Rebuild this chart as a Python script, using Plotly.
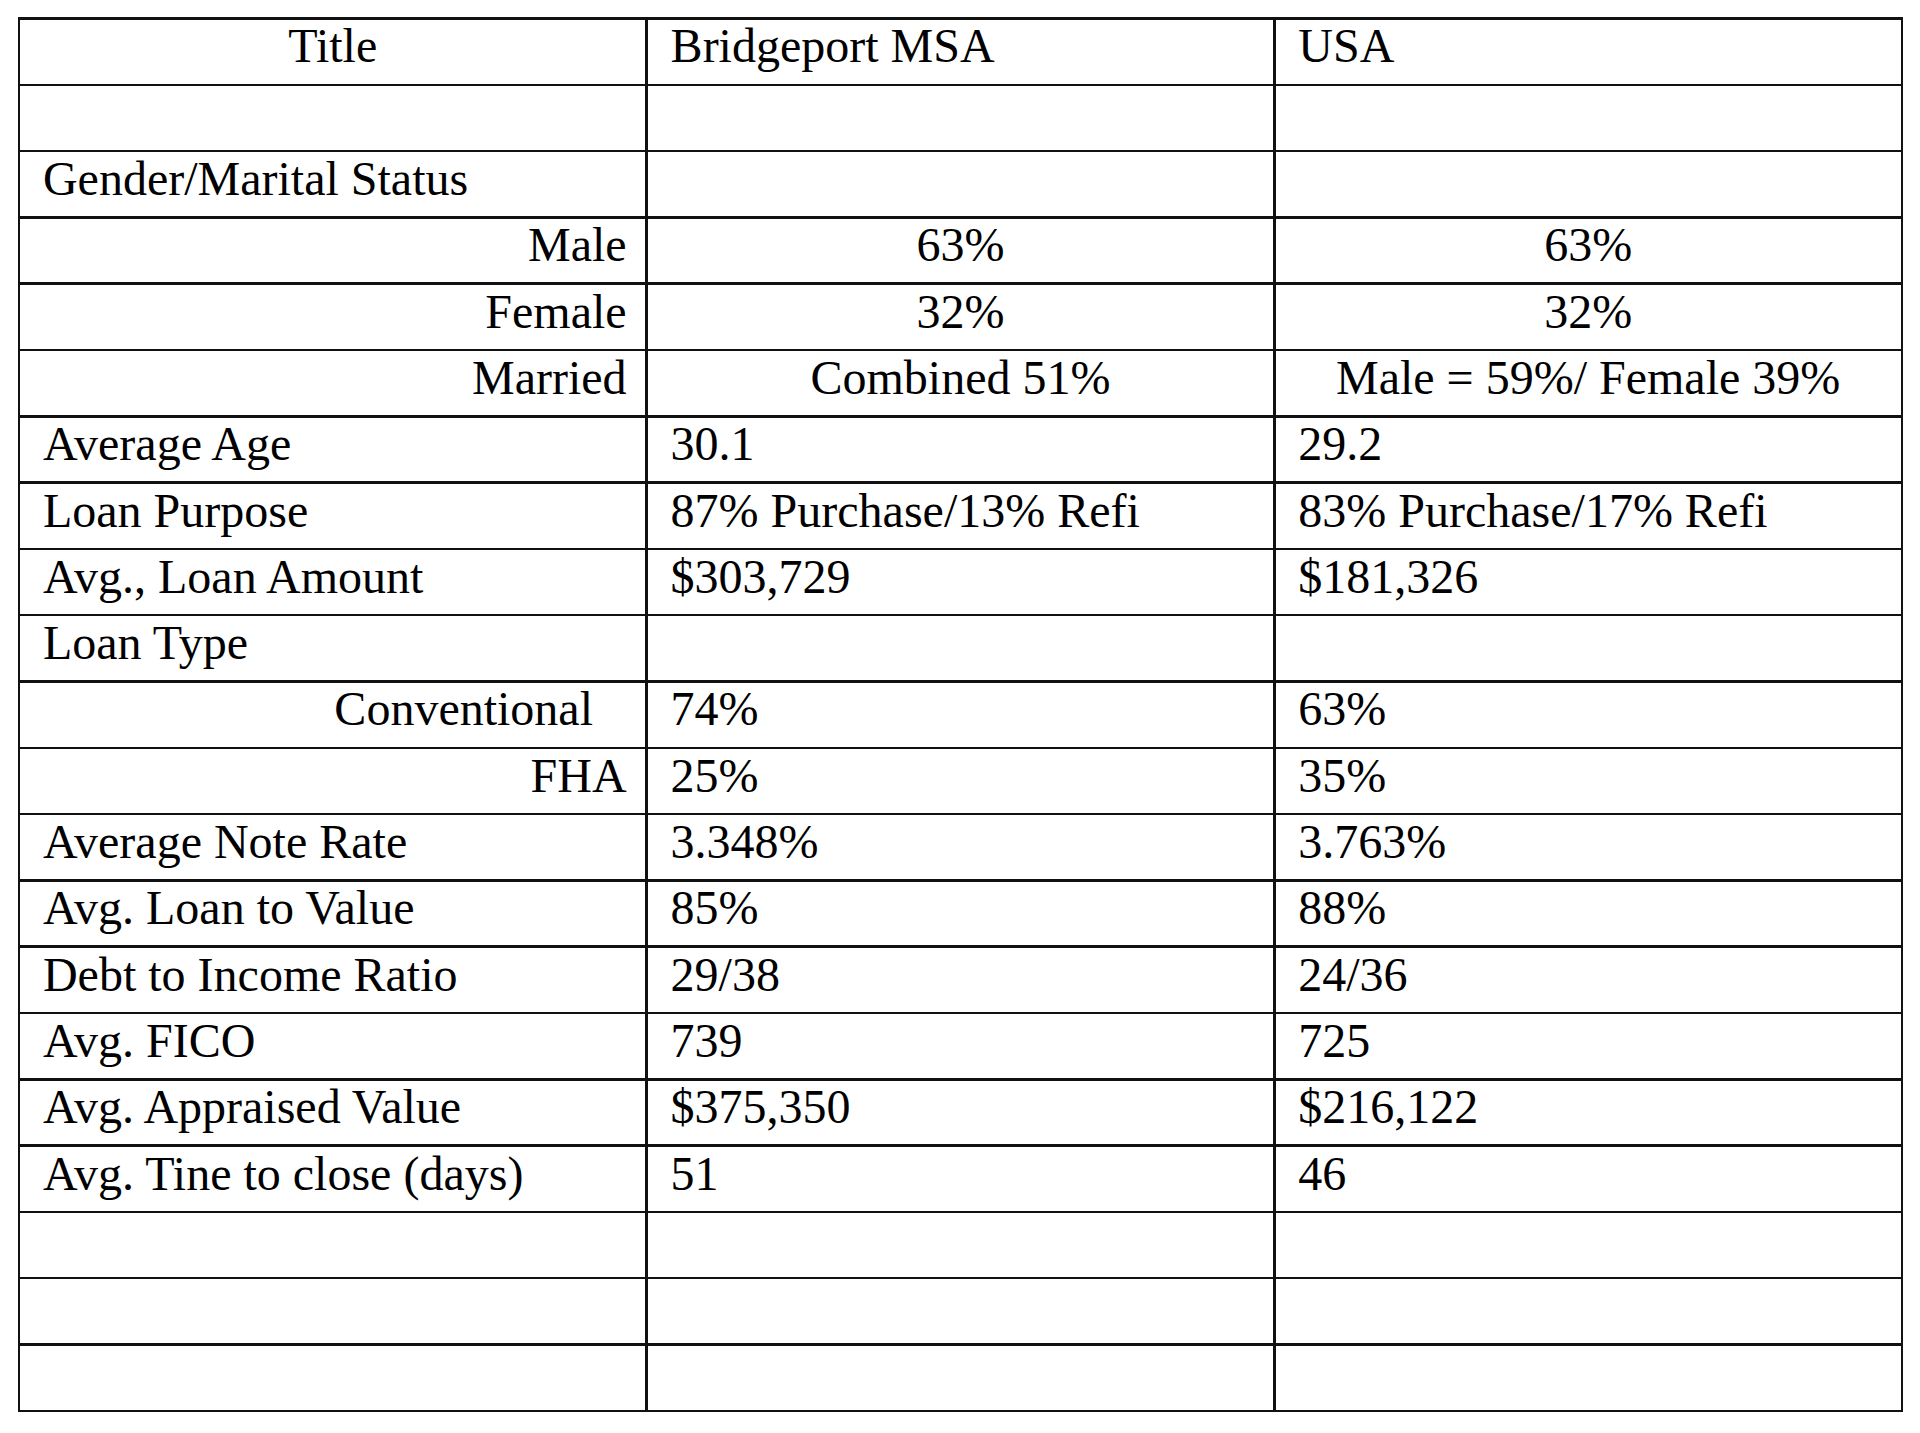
import plotly.graph_objects as go

header = ["Title", "Bridgeport MSA", "USA"]

labels = ["", "Gender/Marital Status", "Male", "Female", "Married",
          "Average Age", "Loan Purpose", "Avg., Loan Amount", "Loan Type",
          "Conventional", "FHA", "Average Note Rate", "Avg. Loan to Value",
          "Debt to Income Ratio", "Avg. FICO", "Avg. Appraised Value",
          "Avg. Tine to close (days)", "", "", ""]

bridgeport = ["", "", "63%", "32%", "Combined 51%", "30.1",
              "87% Purchase/13% Refi", "$303,729", "", "74%", "25%",
              "3.348%", "85%", "29/38", "739", "$375,350", "51", "", "", ""]

usa = ["", "", "63%", "32%", "Male = 59%/ Female 39%", "29.2",
       "83% Purchase/17% Refi", "$181,326", "", "63%", "35%",
       "3.763%", "88%", "24/36", "725", "$216,122", "46", "", "", ""]

# sub-rows that are pushed right in the label column / centred in value columns
right_rows = {"Male", "Female", "Married", "Conventional", "FHA"}
center_rows = {"Male", "Female", "Married"}

pad = "\u00a0\u200a"


def right_label(s):
    if s == "Conventional":
        return s + "\u00a0" * 3 + "\u2009"
    return s + "\u00a0"


# base table: normal left-aligned text
base1 = ["" if s in right_rows else pad + s for s in labels]
base2 = ["" if lab in center_rows else pad + v for lab, v in zip(labels, bridgeport)]
base3 = ["" if lab in center_rows else pad + v for lab, v in zip(labels, usa)]

# overlay table: right-aligned labels and centred values
over1 = [right_label(s) if s in right_rows else "" for s in labels]
over2 = [v if lab in center_rows else "" for lab, v in zip(labels, bridgeport)]
over3 = [v if lab in center_rows else "" for lab, v in zip(labels, usa)]

font = dict(family="Liberation Serif", size=48, color="black")
line = dict(color="#111111", width=2.5)
noline = dict(color="rgba(0,0,0,0)", width=0)
row_h = 66.3
dom = dict(x=[0.0057, 0.9865], y=[0, 0.9927])

fig = go.Figure()

fig.add_trace(go.Table(
    domain=dom,
    columnwidth=[1, 1, 1],
    header=dict(
        values=[header[0], pad + header[1], pad + header[2]],
        align=["center", "left", "left"],
        font=font, height=row_h, line=line, fill_color="white",
    ),
    cells=dict(
        values=[base1, base2, base3],
        align=["left", "left", "left"],
        font=font, height=row_h, line=line, fill_color="white",
    ),
))

fig.add_trace(go.Table(
    domain=dom,
    columnwidth=[1, 1, 1],
    header=dict(
        values=["", "", ""],
        font=font, height=row_h, line=noline, fill_color="rgba(0,0,0,0)",
    ),
    cells=dict(
        values=[over1, over2, over3],
        align=["right", "center", "center"],
        font=font, height=row_h, line=noline, fill_color="rgba(0,0,0,0)",
    ),
))

fig.update_layout(
    width=1920, height=1433,
    margin=dict(l=0, r=0, t=0, b=0),
    paper_bgcolor="white",
)

fig.write_html("out.html")
